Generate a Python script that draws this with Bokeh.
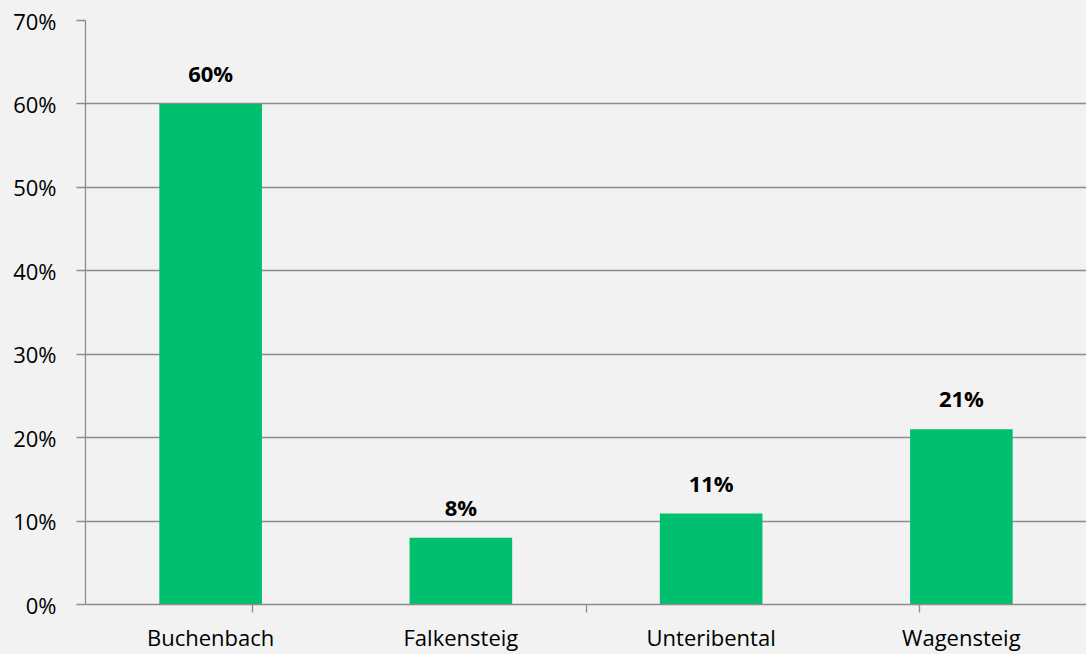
from bokeh.plotting import figure
from bokeh.models import (ColumnDataSource, Range1d, FactorRange, LinearAxis, CategoricalAxis,
                          FixedTicker, NumeralTickFormatter)
from bokeh.core.properties import value
from bokeh.embed import file_html
from bokeh.resources import INLINE

categories = ["Buchenbach", "Falkensteig", "Unteribental", "Wagensteig"]
shares = [0.60, 0.08, 0.109, 0.21]
share_labels = ["60%", "8%", "11%", "21%"]
y_ticks = [0.0, 0.1, 0.2, 0.3, 0.4, 0.5, 0.6, 0.7]

BG = "#f2f2f2"
GRID = "#8c8c8c"
BAR = "#00BF6F"
FONT = "Open Sans"

src = ColumnDataSource(data=dict(cat=categories, val=shares, lab=share_labels))

p = figure(x_range=FactorRange(factors=categories), y_range=Range1d(0, 0.7), width=1086, height=654,
           output_backend="svg", toolbar_location=None,
           x_axis_location=None, y_axis_location=None,
           background_fill_color=BG, border_fill_color=BG,
           min_border_left=85, min_border_right=0, min_border_top=20, min_border_bottom=0)
p.outline_line_color = None

p.vbar(x="cat", top="val", width=0.41, source=src, fill_color=BAR, line_color=None)
p.text(x="cat", y="val", text="lab", source=src, text_align="center",
       text_baseline="alphabetic", y_offset=-31,
       text_font=value(FONT), text_font_style="bold", text_font_size="22px",
       text_color="#000000")

# y axis
yax = LinearAxis(ticker=FixedTicker(ticks=y_ticks),
                 formatter=NumeralTickFormatter(format="0%"))
yax.axis_line_color = GRID
yax.axis_line_width = 1.3
yax.major_tick_line_color = GRID
yax.major_tick_line_width = 1.3
yax.major_tick_in = 0
yax.major_tick_out = 9
yax.minor_tick_line_color = None
yax.major_label_standoff = 20
yax.major_label_text_font = FONT
yax.major_label_text_font_size = "22px"
yax.major_label_text_color = "#000000"
p.add_layout(yax, "left")

# x axis ticks at category boundaries (helper factor range shifted by half a category)
boundaries = ["|%d" % i for i in range(len(categories) + 1)]
p.extra_x_ranges = {"bounds": FactorRange(factors=boundaries, range_padding=-1,
                                          range_padding_units="absolute")}
tax = CategoricalAxis(x_range_name="bounds")
tax.axis_line_color = GRID
tax.axis_line_width = 1.3
tax.major_tick_line_color = GRID
tax.major_tick_line_width = 1.3
tax.major_tick_in = 0
tax.major_tick_out = 8
tax.major_label_standoff = 0
tax.major_label_text_font_size = "0px"
tax.major_label_text_color = None
p.add_layout(tax, "below")

# category labels
cax = CategoricalAxis()
cax.axis_line_color = None
cax.major_tick_line_color = None
cax.major_tick_out = 0
cax.major_tick_in = 0
cax.major_label_standoff = 9
cax.major_label_text_font = FONT
cax.major_label_text_font_size = "22px"
cax.major_label_text_color = "#000000"
p.add_layout(cax, "below")

p.xgrid.grid_line_color = None
p.ygrid.ticker = FixedTicker(ticks=y_ticks)
p.ygrid.grid_line_color = GRID
p.ygrid.grid_line_width = 1.3

html = file_html(p, INLINE)
html = html.replace("<head>", "<head><style>html,body{background:#f2f2f2;}</style>", 1)
open("out.html", "w").write(html)
